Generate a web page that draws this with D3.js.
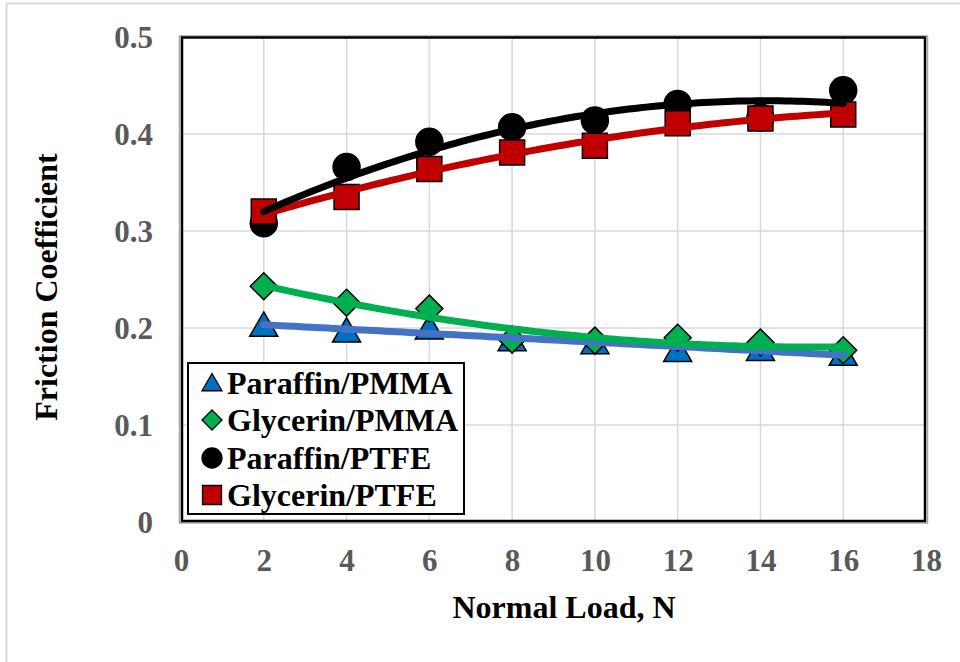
<!DOCTYPE html>
<html>
<head>
<meta charset="utf-8">
<script src="https://cdn.jsdelivr.net/npm/d3@7"></script>
<style>
  html, body { margin: 0; padding: 0; background: #fff; }
  svg { display: block; }
  text { font-family: "Liberation Serif", "Times New Roman", serif; font-weight: bold; }
</style>
</head>
<body>
<svg id="chart" width="960" height="662"></svg>
<script>
// Normal load (N) and measured friction coefficients
const loads = [2, 4, 6, 8, 10, 12, 14, 16];
const paraffinPMMA = [0.203, 0.197, 0.200, 0.188, 0.185, 0.177, 0.178, 0.173];
const glycerinPMMA = [0.243, 0.226, 0.220, 0.188, 0.187, 0.190, 0.185, 0.177];
const paraffinPTFE = [0.308, 0.366, 0.392, 0.407, 0.414, 0.431, 0.417, 0.445];
const glycerinPTFE = [0.320, 0.335, 0.364, 0.381, 0.388, 0.411, 0.416, 0.420];

const seriesNames = ["Paraffin/PMMA", "Glycerin/PMMA", "Paraffin/PTFE", "Glycerin/PTFE"];
const xTicks = [0, 2, 4, 6, 8, 10, 12, 14, 16, 18];
const yTicks = [0, 0.1, 0.2, 0.3, 0.4, 0.5];
const yTickLabels = ["0", "0.1", "0.2", "0.3", "0.4", "0.5"];

const series = [
  { name: seriesNames[0], values: paraffinPMMA, shape: "triangle", fill: "#0070C0", line: "#4472C4", degree: 1 },
  { name: seriesNames[1], values: glycerinPMMA, shape: "diamond",  fill: "#00B050", line: "#00B050", degree: 2 },
  { name: seriesNames[2], values: paraffinPTFE, shape: "circle",   fill: "#000000", line: "#000000", degree: 2 },
  { name: seriesNames[3], values: glycerinPTFE, shape: "square",   fill: "#C00000", line: "#C00000", degree: 2 }
];

const svg = d3.select("#chart");
const plot = { left: 181, right: 926, top: 37, bottom: 522 };

const x = d3.scaleLinear().domain([0, 18]).range([plot.left, plot.right]);
const y = d3.scaleLinear().domain([0, 0.5]).range([plot.bottom, plot.top]);

// chart-area frame
svg.append("rect")
  .attr("x", 6.5).attr("y", 3.5).attr("width", 1000).attr("height", 700)
  .attr("fill", "#fff").attr("stroke", "#d9d9d9").attr("stroke-width", 2);

// gridlines
const grid = svg.append("g");
grid.selectAll("line.v").data(xTicks.slice(1, -1)).join("line")
  .attr("x1", d => x(d)).attr("x2", d => x(d))
  .attr("y1", plot.top).attr("y2", plot.bottom)
  .attr("stroke", "#d9d9d9").attr("stroke-width", 1.5);
grid.selectAll("line.h").data(yTicks.slice(1, -1)).join("line")
  .attr("x1", plot.left).attr("x2", plot.right)
  .attr("y1", d => y(d)).attr("y2", d => y(d))
  .attr("stroke", "#d9d9d9").attr("stroke-width", 1.5);

// plot-area border (dark frame with light shadow line)
svg.append("rect")
  .attr("x", plot.left - 1.5).attr("y", plot.top - 1).attr("width", plot.right - plot.left + 3).attr("height", plot.bottom - plot.top + 2)
  .attr("fill", "none").attr("stroke", "#a6a6a6").attr("stroke-width", 1.5);
svg.append("rect")
  .attr("x", plot.left + 1).attr("y", plot.top + 0.5).attr("width", plot.right - plot.left - 2).attr("height", plot.bottom - plot.top - 1.5)
  .attr("fill", "none").attr("stroke", "#000").attr("stroke-width", 2.5);

// axis tick labels (frame and grid are drawn separately)
const xAxis = svg.append("g")
  .attr("transform", `translate(0,${plot.bottom + 38})`)
  .call(d3.axisBottom(x).tickValues(xTicks).tickSize(0).tickPadding(0).tickFormat(d3.format("d")));
xAxis.select(".domain").remove();
xAxis.selectAll("text")
  .attr("fill", "#595959").attr("font-size", 31).attr("dy", "0.35em")
  .style("font-family", "'Liberation Serif', serif").style("font-weight", "bold");

const yAxis = svg.append("g")
  .attr("transform", `translate(153,0)`)
  .call(d3.axisLeft(y).tickValues(yTicks).tickSize(0).tickPadding(0).tickFormat((d, i) => yTickLabels[i]));
yAxis.select(".domain").remove();
yAxis.selectAll("text")
  .attr("fill", "#595959").attr("font-size", 31).attr("dy", "0.35em")
  .style("font-family", "'Liberation Serif', serif").style("font-weight", "bold");

// axis titles
svg.append("text")
  .attr("x", 564).attr("y", 618)
  .attr("text-anchor", "middle").attr("font-size", 32).attr("fill", "#000")
  .text("Normal Load, N");
svg.append("text")
  .attr("transform", "translate(57,287) rotate(-90)")
  .attr("text-anchor", "middle").attr("font-size", 32).attr("fill", "#000")
  .text("Friction Coefficient");

// marker shapes; size is the marker's width in pixels
function markerPath(shape, size) {
  const h = size / 2;
  if (shape === "diamond") {
    const p = d3.path();
    p.moveTo(0, -h); p.lineTo(h, 0); p.lineTo(0, h); p.lineTo(-h, 0); p.closePath();
    return p.toString();
  }
  if (shape === "triangle") return d3.symbol(d3.symbolTriangle, size * size * Math.sqrt(3) / 4)();
  if (shape === "circle") return d3.symbol(d3.symbolCircle, Math.PI * h * h)();
  return d3.symbol(d3.symbolSquare, size * size)();
}

// markers, drawn in series order
const marks = svg.append("g");
series.forEach(s => {
  const sz = { triangle: 28, diamond: 27, circle: 27, square: 25 }[s.shape];
  marks.append("g").selectAll("path").data(loads.map((l, i) => [l, s.values[i]])).join("path")
    .attr("d", markerPath(s.shape, sz))
    .attr("transform", d => `translate(${x(d[0])},${y(d[1]) + (s.shape === "triangle" ? 3 : 0)})`)
    .attr("fill", s.fill).attr("stroke", "#000").attr("stroke-width", 1.5);
});

// least-squares polynomial trendline
function polyFit(xs, ys, degree) {
  const n = degree + 1;
  const A = Array.from({ length: n }, () => new Array(n).fill(0));
  const b = new Array(n).fill(0);
  xs.forEach((xv, k) => {
    for (let i = 0; i < n; i++) {
      b[i] += ys[k] * Math.pow(xv, i);
      for (let j = 0; j < n; j++) A[i][j] += Math.pow(xv, i + j);
    }
  });
  for (let c = 0; c < n; c++) {
    let p = c;
    for (let r = c + 1; r < n; r++) if (Math.abs(A[r][c]) > Math.abs(A[p][c])) p = r;
    [A[c], A[p]] = [A[p], A[c]]; [b[c], b[p]] = [b[p], b[c]];
    for (let r = c + 1; r < n; r++) {
      const f = A[r][c] / A[c][c];
      for (let j = c; j < n; j++) A[r][j] -= f * A[c][j];
      b[r] -= f * b[c];
    }
  }
  const coef = new Array(n).fill(0);
  for (let i = n - 1; i >= 0; i--) {
    let sum = b[i];
    for (let j = i + 1; j < n; j++) sum -= A[i][j] * coef[j];
    coef[i] = sum / A[i][i];
  }
  return xv => coef.reduce((acc, c, i) => acc + c * Math.pow(xv, i), 0);
}

const trendOrder = [0, 1, 3, 2];
const line = d3.line().x(d => x(d[0])).y(d => y(d[1]));
const xMin = d3.min(loads), xMax = d3.max(loads);
const samples = d3.range(0, 101).map(i => xMin + (xMax - xMin) * i / 100);
trendOrder.forEach(idx => {
  const s = series[idx];
  const f = polyFit(loads, s.values, s.degree);
  svg.append("path")
    .attr("d", line(samples.map(t => [t, f(t)])))
    .attr("fill", "none").attr("stroke", s.line).attr("stroke-width", 7)
    .attr("stroke-linecap", "round");
});

// legend
const legend = svg.append("g");
legend.append("rect")
  .attr("x", 188).attr("y", 363).attr("width", 276).attr("height", 151)
  .attr("fill", "#fff").attr("stroke", "#000").attr("stroke-width", 2);
const rowY = [383, 420, 458, 495];
series.forEach((s, i) => {
  const sz = { triangle: 20, diamond: 20, circle: 20, square: 19 }[s.shape];
  legend.append("path")
    .attr("d", markerPath(s.shape, sz))
    .attr("transform", `translate(212,${rowY[i] + (s.shape === "triangle" ? 2 : 0)})`)
    .attr("fill", s.fill).attr("stroke", "#000").attr("stroke-width", 1.3);
  legend.append("text")
    .attr("x", 227).attr("y", rowY[i]).attr("dy", "0.35em")
    .attr("font-size", 32).attr("fill", "#000")
    .text(s.name);
});
</script>
</body>
</html>
